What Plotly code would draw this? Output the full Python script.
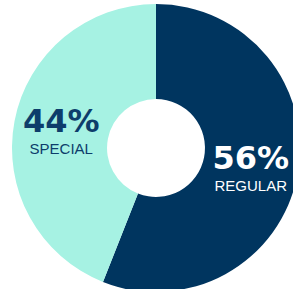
import plotly.graph_objects as go

labels = ["REGULAR", "SPECIAL"]
values = [56, 44]
colors = ["#00355f", "#a6f2e3"]
text_colors = ["#ffffff", "#0d3d6b"]

fig = go.Figure(go.Pie(
    labels=labels,
    values=values,
    hole=0.34,
    sort=False,
    direction="clockwise",
    rotation=0,
    marker=dict(colors=colors, line=dict(width=0)),
    textinfo="none",
    texttemplate=("<span style='font-size:32px;font-family:DejaVu Sans'><b>%{value}%</b></span>"
                  "<br><span style='font-size:15px'>%{label}</span>"),
    textposition="inside",
    insidetextorientation="horizontal",
    insidetextfont=dict(family="Liberation Sans, Arial", size=17, color=text_colors),
    domain=dict(x=[0, 1], y=[4 / 296, 292 / 296]),
    showlegend=False,
    hoverinfo="skip",
))
fig.update_layout(
    width=312, height=296,
    margin=dict(l=0, r=0, t=0, b=0),
    paper_bgcolor="white",
)
fig.write_html(
    "out.html",
    config={"displayModeBar": False},
    post_script="document.body.style.margin='0';document.body.style.overflow='hidden';",
)
